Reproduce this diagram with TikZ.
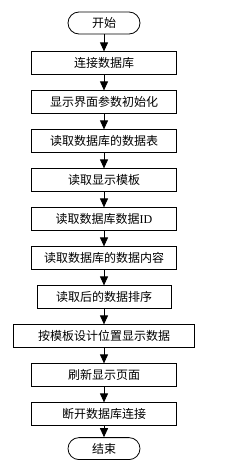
\documentclass[tikz,border=0pt]{standalone}
\usepackage{fontspec}
\setmainfont{Noto Sans CJK SC}
\newfontfamily\idfont{Liberation Serif}
\usepackage{tikz}
\usetikzlibrary{positioning,arrows.meta}

\begin{document}
\begin{tikzpicture}[
node distance=15.2pt,
box/.style={draw, align=center, minimum width=145pt, minimum height=23pt, inner sep=1pt, line width=0.8pt, font=\fontsize{12}{14}\selectfont},
term/.style={box, rounded corners=11pt, minimum width=72pt, minimum height=22pt},
arr/.style={-{Triangle[length=9pt,width=8pt]}, line width=0.9pt}
]
\useasboundingbox (0,0) rectangle (245pt,-460pt);
\node[term] (start) at (104pt,-23pt) {开始};
\node[box, below=17pt of start] (connect) {连接数据库};
\node[box, below=of connect] (init) {显示界面参数初始化};
\node[box, below=of init] (table) {读取数据库的数据表};
\node[box, below=of table] (tmpl) {读取显示模板};
\node[box, below=of tmpl] (id) {读取数据库数据{\idfont ID}};
\node[box, below=of id] (content) {读取数据库的数据内容};
\node[box, below=of content, minimum width=134pt] (sort) {读取后的数据排序};
\node[box, below=of sort, minimum width=181pt] (show) {按模板设计位置显示数据};
\node[box, below=of show] (refresh) {刷新显示页面};
\node[box, below=of refresh] (disconnect) {断开数据库连接};
\node[term, below=11pt of disconnect] (stop) {结束};
\draw[arr] (start)--(connect);
\draw[arr] (connect)--(init);
\draw[arr] (init)--(table);
\draw[arr] (table)--(tmpl);
\draw[arr] (tmpl)--(id);
\draw[arr] (id)--(content);
\draw[arr] (content)--(sort);
\draw[arr] (sort)--(show);
\draw[arr] (show)--(refresh);
\draw[arr] (refresh)--(disconnect);
\draw[arr] (disconnect)--(stop);
\end{tikzpicture}
\end{document}
